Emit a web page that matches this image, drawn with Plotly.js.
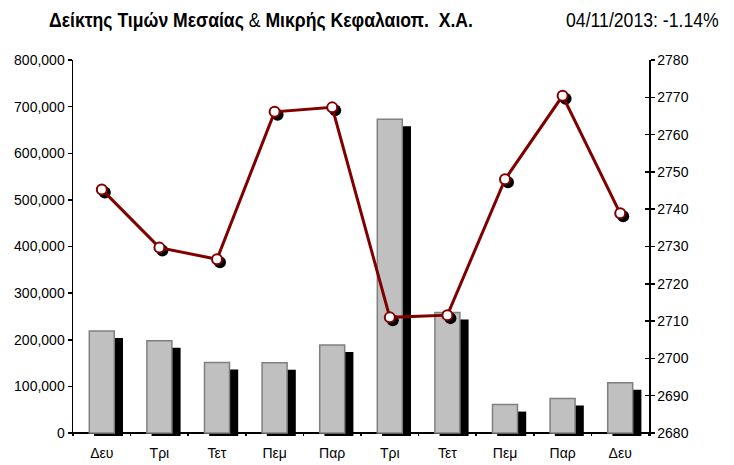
<!DOCTYPE html>
<html>
<head>
<meta charset="utf-8">
<script src="https://cdn.plot.ly/plotly-3.0.1.min.js"></script>
<style>html,body{margin:0;padding:0;background:#fff;}</style>
</head>
<body>
<div id="chart" style="width:734px;height:465px;"></div>
<script>
// Data
const categories = ['Δευ','Τρι','Τετ','Πεμ','Παρ','Τρι','Τετ','Πεμ','Παρ','Δευ'];
const volume = [219000, 198000, 151000, 150500, 189000, 673000, 258500, 61000, 74000, 108000];
const indexValues = [2745.3, 2729.7, 2726.6, 2766.1, 2767.3, 2711.0, 2711.6, 2748.0, 2770.4, 2738.9];
const leftTicks = [0, 100000, 200000, 300000, 400000, 500000, 600000, 700000, 800000];
const rightTicks = [2680, 2690, 2700, 2710, 2720, 2730, 2740, 2750, 2760, 2770, 2780];
const titleText = '<b>Δείκτης Τιμών Μεσαίας</b> & <b>Μικρής Κεφαλαιοπ.&nbsp; Χ.Α.</b>';
const dateText = '04/11/2013: -1.14%';

// geometry helpers (styling only)
const pos = categories.map((c, i) => i);
const plotH = 376;             // px
const leftMax = 800000, leftPad = 3; // px below zero
const leftPerPx = leftMax / (plotH - leftPad);
const rightMin = 2680, rightMax = 2780;
const rightPerPx = (rightMax - rightMin) / (plotH - leftPad);
const catPx = 576 / categories.length;

const font = 'Liberation Sans, Arial, sans-serif';
const narrow = 'Liberation Sans Narrow, Arial Narrow, Liberation Sans, Arial, sans-serif';

// horizontal placement of the header texts: [left px, width px]
const headerBoxes = [[49, 424], [566, 153]];

const traces = [
  { // bar shadow
    type: 'bar', x: pos, y: volume.map(v => v - 4 * leftPerPx), base: -leftPad * leftPerPx,
    width: 29 / catPx, offset: -7.8 / catPx,
    marker: { color: '#000000', line: { width: 0 } },
    hoverinfo: 'skip', showlegend: false, xaxis: 'x', yaxis: 'y'
  },
  { // bars
    type: 'bar', x: pos, y: volume, base: 0,
    width: 25 / catPx, offset: -12.5 / catPx,
    marker: { color: '#C0C0C0', line: { color: '#808080', width: 1.5 } },
    showlegend: false, xaxis: 'x', yaxis: 'y'
  },
  { // marker shadows
    type: 'scatter', mode: 'markers', x: pos.map(p => p + 3 / catPx), y: indexValues.map(v => v - 3 * rightPerPx),
    marker: { color: '#000000', size: 12, line: { width: 0 } },
    hoverinfo: 'skip', showlegend: false, xaxis: 'x', yaxis: 'y2', cliponaxis: false
  },
  { // index line
    type: 'scatter', mode: 'lines+markers', x: pos, y: indexValues,
    line: { color: '#800000', width: 3 },
    marker: { color: '#FFFFFF', size: 10, line: { color: '#800000', width: 2 } },
    showlegend: false, xaxis: 'x', yaxis: 'y3', cliponaxis: false
  }
];

const rightRange = [rightMin - leftPad * rightPerPx, rightMax];

const layout = {
  width: 734, height: 465,
  margin: { l: 73, r: 85, t: 60, b: 29 },
  paper_bgcolor: '#ffffff', plot_bgcolor: '#ffffff',
  barmode: 'overlay',
  font: { family: font, size: 14, color: '#000' },
  xaxis: {
    range: [-0.5, categories.length - 0.5],
    tickvals: pos, ticktext: categories, ticks: '',
    ticklabelstandoff: 7,
    showline: false, showgrid: false, zeroline: false,
    tickfont: { family: font, size: 14, color: '#000' },
    minor: { tickvals: pos.concat([categories.length]).map(p => p - 0.5), ticks: 'inside', ticklen: 4, tickwidth: 1.5, tickcolor: '#000', showgrid: false },
    fixedrange: true
  },
  yaxis: {
    range: [-leftPad * leftPerPx, leftMax],
    tickvals: leftTicks, tickformat: ',d',
    ticks: 'outside', ticklen: 4, tickwidth: 1.5, tickcolor: '#000',
    showline: true, linecolor: '#000', linewidth: 1.5,
    showgrid: false, zeroline: true, zerolinecolor: '#000', zerolinewidth: 1.5,
    tickfont: { family: font, size: 14, color: '#000' },
    fixedrange: true
  },
  yaxis2: {
    overlaying: 'y', side: 'right', range: rightRange,
    tickvals: rightTicks,
    ticks: 'outside', ticklen: 4, tickwidth: 1.5, tickcolor: '#000',
    showline: true, linecolor: '#000', linewidth: 1.5,
    showgrid: false, zeroline: false,
    tickfont: { family: font, size: 14, color: '#000' },
    fixedrange: true
  },
  yaxis3: {
    overlaying: 'y', side: 'right', range: rightRange,
    tickvals: rightTicks, showticklabels: false,
    ticks: 'inside', ticklen: 4, tickwidth: 1.5, tickcolor: '#000',
    showline: false, showgrid: false, zeroline: false,
    fixedrange: true
  },
  annotations: [
    { text: titleText, xref: 'paper', yref: 'paper', x: (49 - 73) / 576, y: (436 - 20) / 376,
      xanchor: 'left', yanchor: 'middle', showarrow: false,
      font: { family: narrow, size: 19.5, color: '#000' } },
    { text: dateText, xref: 'paper', yref: 'paper', x: (720 - 73) / 576, y: (436 - 20) / 376,
      xanchor: 'right', yanchor: 'middle', showarrow: false,
      font: { family: narrow, size: 20, color: '#000' } }
  ],
  showlegend: false
};

Plotly.newPlot('chart', traces, layout, { displayModeBar: false, staticPlot: true }).then(gd => {
  // condense the header texts horizontally to the narrow look of the original
  const texts = gd.querySelectorAll('.annotation-text');
  texts.forEach((t, i) => {
    const box = headerBoxes[i];
    if (!box) return;
    const r = t.getBoundingClientRect();
    const gr = gd.getBoundingClientRect();
    const L = r.left - gr.left, W = r.width;
    if (W <= 0) return;
    const k = Math.min(1, box[1] / W);
    const bb = t.getBBox();
    const x0 = bb.x;
    const shift = box[0] - L;
    t.setAttribute('transform', 'translate(' + (x0 + shift) + ',0) scale(' + k + ',1) translate(' + (-x0) + ',0)');
  });
});
</script>
</body>
</html>
